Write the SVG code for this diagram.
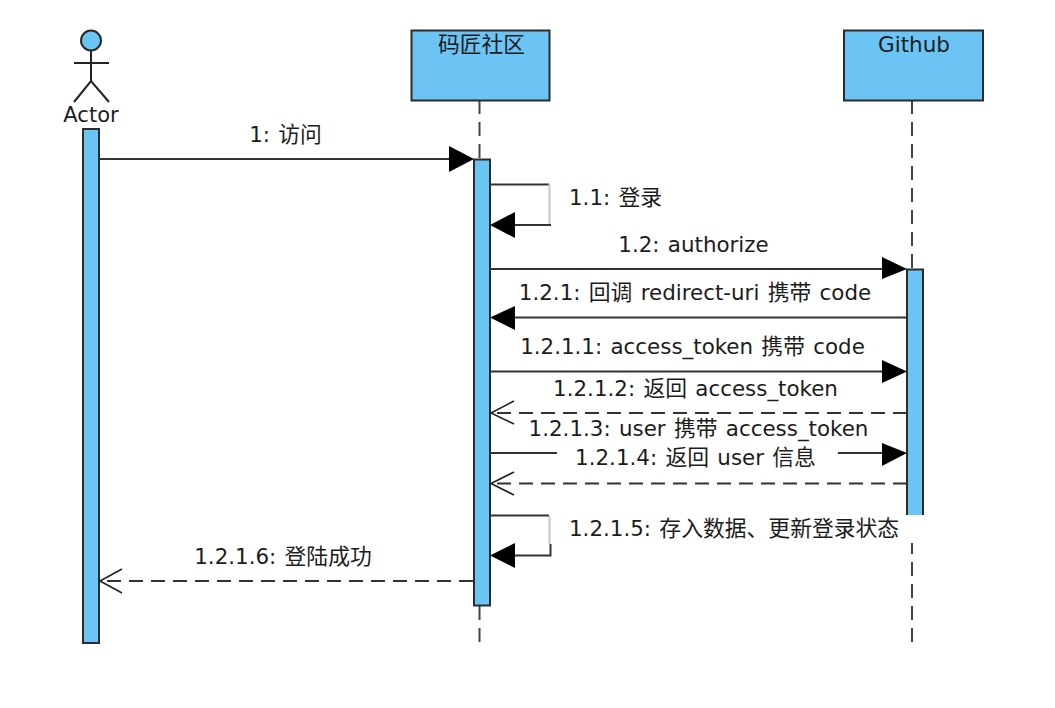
<svg xmlns="http://www.w3.org/2000/svg" width="1055" height="708" viewBox="0 0 1055 708">
<style>
text{font-family:"DejaVu Sans","Noto Sans CJK SC",sans-serif;font-size:21.400px;word-spacing:1.500px;fill:#1c1c1c;text-anchor:middle}
text.l{text-anchor:start}
.c{font-family:"Noto Sans CJK SC",sans-serif;font-size:21.800px}
.box{fill:#6cc4f5;stroke:#2b2b2b;stroke-width:2}
.life{stroke:#444;stroke-width:2;stroke-dasharray:14 8;fill:none}
.msg{stroke:#333;stroke-width:2;fill:none}
.dash{stroke:#333;stroke-width:2;fill:none;stroke-dasharray:14 8}
.head{fill:#000;stroke:none}
.open{fill:none;stroke:#222;stroke-width:1.6}
.fig{fill:none;stroke:#222;stroke-width:2}
</style>
<g id="lifelines">
<line class="life" x1="479.5" y1="100" x2="479.5" y2="645"/>
<line class="life" x1="912" y1="100" x2="912" y2="645"/>
</g>
<g id="actor">
<circle cx="91" cy="40.5" r="10" class="box"/>
<path class="fig" d="M91 51V81M74 63H109M74 102L91 81L109 102"/>
<text x="91" y="121.500" style="font-size:21px">Actor</text>
<rect class="box" x="83" y="129" width="16" height="514"/>
</g>
<g id="mazhang">
<rect class="box" x="411.500" y="30.500" width="138" height="70"/>
<text x="481.500" y="52" class="c">码匠社区</text>
<rect class="box" x="474" y="159.500" width="16" height="446"/>
</g>
<g id="github">
<rect class="box" x="844" y="30.500" width="139" height="70"/>
<text x="914" y="52" style="font-size:21.500px">Github</text>
<rect x="906.500" y="269" width="16.500" height="246" fill="#6cc4f5"/>
<path d="M907 515V269.500H923V515" fill="none" stroke="#2b2b2b" stroke-width="2"/>
</g>
<g id="connectors">
<line class="msg" x1="99" y1="159" x2="450" y2="159"/>
<polygon class="head" points="449,146 474,159 449,172"/>
<path class="msg" d="M490 184.500H549"/>
<path d="M549.500 184V225" stroke="#c8c8c8" stroke-width="2" fill="none"/>
<path class="msg" d="M551 225H512"/>
<polygon class="head" points="515,212 490,225 515,238"/>
<line class="msg" x1="490" y1="269" x2="885" y2="269"/>
<polygon class="head" points="882,257 907,269 882,279"/>
<line class="msg" x1="907" y1="317.500" x2="512" y2="317.500"/>
<polygon class="head" points="515,306 490,317.500 515,330"/>
<line class="msg" x1="490" y1="371.500" x2="885" y2="371.500"/>
<polygon class="head" points="882,360 907,371.500 882,383"/>
<line class="dash" x1="907" y1="413" x2="492" y2="413"/>
<path class="open" d="M514 401L491 413L514 424"/>
<path class="msg" d="M490 453H557M838 453H885"/>
<polygon class="head" points="882,443 907,453 882,466"/>
<line class="dash" x1="907" y1="483.500" x2="492" y2="483.500"/>
<path class="open" d="M514 472L491 483.500L514 495"/>
<path class="msg" d="M490 515.500H549"/>
<path d="M549.500 516V544" stroke="#c8c8c8" stroke-width="2" fill="none"/>
<path class="msg" d="M550.500 544V555.500H512"/>
<polygon class="head" points="515,543 490,555.500 515,568"/>
<line class="dash" x1="473" y1="581" x2="101" y2="581"/>
<path class="open" d="M122 569L100 581L122 593"/>
</g>
<rect x="906" y="516" width="18" height="27" fill="#fff"/>
<g id="labels">
<text x="285.500" y="142">1: <tspan class="c">访问</tspan></text>
<text class="l" x="569" y="205">1.1: <tspan class="c">登录</tspan></text>
<text x="693.500" y="252">1.2: authorize</text>
<text x="695" y="300">1.2.1: <tspan class="c">回调</tspan> redirect-uri <tspan class="c">携带</tspan> code</text>
<text x="692.500" y="354">1.2.1.1: access_token <tspan class="c">携带</tspan> code</text>
<text x="695.500" y="396">1.2.1.2: <tspan class="c">返回</tspan> access_token</text>
<text x="698.500" y="436">1.2.1.3: user <tspan class="c">携带</tspan> access_token</text>
<text x="695.500" y="465">1.2.1.4: <tspan class="c">返回</tspan> user <tspan class="c">信息</tspan></text>
<text class="l" x="569" y="536">1.2.1.5: <tspan class="c">存入数据、更新登录状态</tspan></text>
<text x="283" y="564">1.2.1.6: <tspan class="c">登陆成功</tspan></text>
</g>
</svg>
